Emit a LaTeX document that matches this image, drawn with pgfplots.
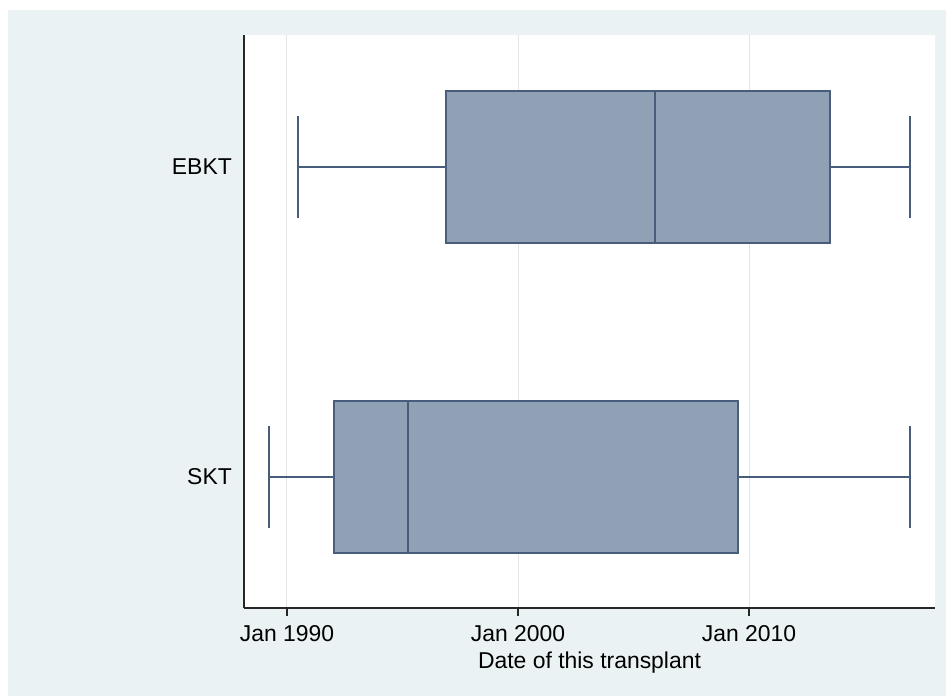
\documentclass[border=0pt]{standalone}
\usepackage{pgfplots}
\pgfplotsset{compat=1.18}
\usepgfplotslibrary{statistics}
\usepackage{fontspec}
\setmainfont{Liberation Sans}
\definecolor{bgblue}{RGB}{234,242,243}
\definecolor{boxfill}{RGB}{145,161,181}
\definecolor{boxline}{RGB}{72,92,124}
\definecolor{gridgray}{RGB}{228,228,228}
\begin{document}
\begin{tikzpicture}
\fill[white] (0bp,0bp) rectangle (946bp,696bp);
\fill[bgblue] (8bp,0bp) rectangle (946bp,686bp);
\begin{axis}[
  at={(244bp,88bp)}, anchor=south west,
  scale only axis, width=691bp, height=573bp,
  xmin=1988.14, xmax=2018.05,
  ymin=-0.4226, ymax=1.4258,
  axis background/.style={fill=white},
  axis x line*=bottom, axis y line*=left,
  axis line style={black!85, line width=1.5bp, -},
  xtick={1990,2000,2010},
  xticklabels={Jan 1990, Jan 2000, Jan 2010},
  tick align=outside,
  major tick length=8bp,
  xtick style={black!85, line width=1.2bp},
  xmajorgrids,
  grid style={gridgray, line width=1bp},
  ytick={0,1},
  yticklabels={SKT, EBKT},
  ytick style={draw=none},
  tick label style={font=\fontsize{23}{27}\selectfont},
  xticklabel style={anchor=base, yshift=-26bp},
  yticklabel style={anchor=east, inner sep=0pt, xshift=-4bp},
  xlabel={Date of this transplant},
  xlabel style={font=\fontsize{23}{27}\selectfont, at={(axis description cs:0.5,0)}, anchor=base, yshift=-60bp},
  boxplot/draw direction=x,
]
\addplot+[boxplot prepared={lower whisker=1989.22, lower quartile=1992.03, median=1995.24, upper quartile=2009.52, upper whisker=2016.97, draw position=0, box extend=0.49, whisker extend=0.33}, draw=boxline, fill=boxfill, line width=2bp, mark=none] coordinates {};
\addplot+[boxplot prepared={lower whisker=1990.48, lower quartile=1996.88, median=2005.93, upper quartile=2013.51, upper whisker=2016.97, draw position=1, box extend=0.49, whisker extend=0.33}, draw=boxline, fill=boxfill, line width=2bp, mark=none] coordinates {};
\end{axis}
\end{tikzpicture}
\end{document}
